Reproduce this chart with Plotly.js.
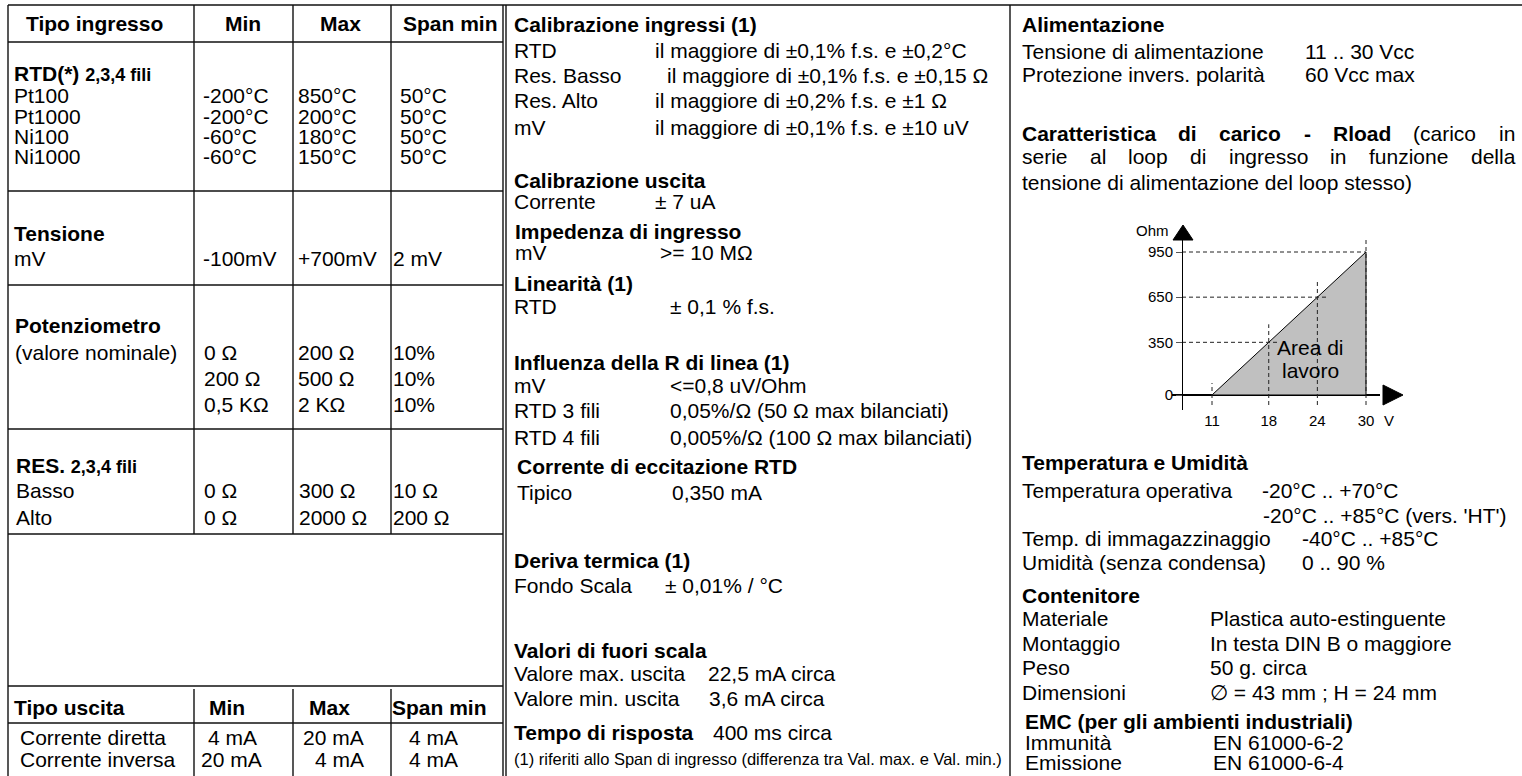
<!DOCTYPE html>
<html>
<head>
<meta charset="utf-8">
<script src="https://cdn.plot.ly/plotly-3.0.1.min.js"></script>
<style>html,body{margin:0;padding:0;background:#fff;}#chart{width:1522px;height:776px;}</style>
</head>
<body>
<div id="chart"></div>
<script>
// ---------------- DATA ----------------
// Input table
const rtdTypes = ['Pt100', 'Pt1000', 'Ni100', 'Ni1000'];
const rtdMin = ['-200°C', '-200°C', '-60°C', '-60°C'];
const rtdMax = ['850°C', '200°C', '180°C', '150°C'];
const rtdSpan = ['50°C', '50°C', '50°C', '50°C'];
const mvTypes = ['mV'];
const mvMin = ['-100mV'];
const mvMax = ['+700mV'];
const mvSpan = ['2 mV'];
const potTypes = ['(valore nominale)', '', ''];
const potMin = ['0 Ω', '200 Ω', '0,5 KΩ'];
const potMax = ['200 Ω', '500 Ω', '2 KΩ'];
const potSpan = ['10%', '10%', '10%'];
const resTypes = ['Basso', 'Alto'];
const resMin = ['0 Ω', '0 Ω'];
const resMax = ['300 Ω', '2000 Ω'];
const resSpan = ['10 Ω', '200 Ω'];
// Output table
const outTypes = ['Corrente diretta', 'Corrente inversa'];
const outMin = ['4 mA', '20 mA'];
const outMax = ['20 mA', '4 mA'];
const outSpan = ['4 mA', '4 mA'];
// Middle column
const calInLabels = ['RTD', 'Res. Basso', 'Res. Alto', 'mV'];
const calInValues = ['il maggiore di ±0,1% f.s. e ±0,2°C', 'il maggiore di ±0,1% f.s. e ±0,15 Ω', 'il maggiore di ±0,2% f.s. e ±1 Ω', 'il maggiore di ±0,1% f.s. e ±10 uV'];
const calOutLabels = ['Corrente'];
const calOutValues = ['± 7 uA'];
const impLabels = ['mV'];
const impValues = ['>= 10 MΩ'];
const linLabels = ['RTD'];
const linValues = ['± 0,1 % f.s.'];
const lineRLabels = ['mV', 'RTD 3 fili', 'RTD 4 fili'];
const lineRValues = ['<=0,8 uV/Ohm', '0,05%/Ω (50 Ω max bilanciati)', '0,005%/Ω (100 Ω max bilanciati)'];
const excLabels = ['Tipico'];
const excValues = ['0,350 mA'];
const driftLabels = ['Fondo Scala'];
const driftValues = ['± 0,01% / °C'];
const overLabels = ['Valore max. uscita', 'Valore min. uscita'];
const overValues = ['22,5 mA circa', '3,6 mA circa'];
const respValue = '400 ms circa';
const footnote = '(1) riferiti allo Span di ingresso (differenza tra Val. max. e Val. min.)';
// Right column
const supplyLabels = ['Tensione di alimentazione', 'Protezione invers. polarità'];
const supplyValues = ['11 .. 30 Vcc', '60 Vcc max'];
const loadText = ['Caratteristica di carico - Rload', '(carico in', 'serie al loop di ingresso in funzione della', 'tensione di alimentazione del loop stesso)'];
const tempLabels = ['Temperatura operativa', '', 'Temp. di immagazzinaggio', 'Umidità (senza condensa)'];
const tempValues = ['-20°C .. +70°C', "-20°C .. +85°C (vers. 'HT')", '-40°C .. +85°C', '0 .. 90 %'];
const boxLabels = ['Materiale', 'Montaggio', 'Peso', 'Dimensioni'];
const boxValues = ['Plastica auto-estinguente', 'In testa DIN B o maggiore', '50 g. circa', '∅ = 43 mm ; H = 24 mm'];
const emcLabels = ['Immunità', 'Emissione'];
const emcValues = ['EN 61000-6-2', 'EN 61000-6-4'];
// Load characteristic chart
const loadV = [11, 18, 24, 30];        // supply voltage (V)
const loadR = [0, 350, 650, 950];      // max load (Ohm)
const loadVLabels = ['11', '18', '24', '30'];
const loadRLabels = ['0', '350', '650', '950'];

// ---------------- LAYOUT HELPERS ----------------
const W = 1522, H = 776;
const F = '"Liberation Sans", Arial, sans-serif';
const FS = 21;
const ann = [];
const shapes = [];
const px = x => x / W;
const py = y => 1 - y / H;
const B = s => '<b>' + s + '</b>';
function T(x, y, text, o = {}) {
  if (!text) return;
  ann.push({
    xref: 'paper', yref: 'paper', x: px(x), y: py(y),
    xanchor: o.anchor || 'left', yanchor: 'middle',
    text: text, showarrow: false, borderpad: 0, borderwidth: 0,
    font: { family: F, size: o.size || FS, color: '#000' }
  });
}
function L(x0, y0, x1, y1, w) {
  shapes.push({ type: 'line', xref: 'paper', yref: 'paper', x0: px(x0), y0: py(y0), x1: px(x1), y1: py(y1), line: { color: '#111', width: w || 1.4 } });
}
function rows(labels, cols, ys, lx, xs) {
  ys.forEach((y, i) => {
    T(lx, y, labels[i]);
    cols.forEach((c, j) => T(xs[j], y, c[i]));
  });
}
function pairs(labels, values, ys, lx, vx) {
  ys.forEach((y, i) => { T(lx, y, labels[i]); T(vx, y, values[i]); });
}

// ---------------- LEFT TABLE ----------------
L(8, 5, W, 5);
[42, 191, 285, 429, 534, 686, 723].forEach(y => L(8, y, 503, y));
L(8, 5, 8, H); L(503, 5, 503, H); L(506, 5, 506, H); L(1010, 5, 1010, H);
[194, 293, 391].forEach(x => { L(x, 5, x, 534); L(x, 689, x, H); });

T(26, 23, B('Tipo ingresso')); T(225, 23, B('Min')); T(320, 23, B('Max')); T(403, 23, B('Span min'));
T(14, 73, B('RTD(*) <span style="font-size:18px">2,3,4 fili</span>'));
rows(rtdTypes, [rtdMin, rtdMax, rtdSpan], [95.5, 116, 136, 157], 14, [203, 298, 400]);
T(14, 233, B('Tensione'));
rows(mvTypes, [mvMin, mvMax, mvSpan], [259], 14, [203, 298, 393]);
T(15, 325, B('Potenziometro'));
rows(potTypes, [potMin, potMax, potSpan], [353, 378, 404], 15, [204, 298, 393]);
T(16, 465, B('RES. <span style="font-size:18px">2,3,4 fili</span>'));
rows(resTypes, [resMin, resMax, resSpan], [490, 517], 16, [204, 299, 393]);
T(14, 707, B('Tipo uscita')); T(209, 707, B('Min')); T(309, 707, B('Max')); T(392, 707, B('Span min'));
T(20, 737, outTypes[0]); T(208, 737, outMin[0]); T(303, 737, outMax[0]); T(409, 737, outSpan[0]);
T(20, 759, outTypes[1]); T(201, 759, outMin[1]); T(315, 759, outMax[1]); T(409, 759, outSpan[1]);

// ---------------- MIDDLE COLUMN ----------------
T(514, 25, B('Calibrazione ingressi (1)'));
[51, 76, 101, 128].forEach((y, i) => { T(514, y, calInLabels[i]); T(i === 1 ? 667 : 655, y, calInValues[i]); });
T(514, 180, B('Calibrazione uscita'));
pairs(calOutLabels, calOutValues, [202], 514, 655);
T(515, 231, B('Impedenza di ingresso'));
pairs(impLabels, impValues, [253], 515, 660);
T(514, 283, B('Linearità (1)'));
pairs(linLabels, linValues, [307], 514, 670);
T(514, 362, B('Influenza della R di linea (1)'));
pairs(lineRLabels, lineRValues, [385, 410, 437], 514, 670);
T(517, 466, B('Corrente di eccitazione RTD'));
pairs(excLabels, excValues, [492], 517, 672);
T(514, 560, B('Deriva termica (1)'));
pairs(driftLabels, driftValues, [585], 514, 665);
T(514, 650, B('Valori di fuori scala'));
T(514, 673, overLabels[0]); T(708, 673, overValues[0]);
T(514, 698, overLabels[1]); T(709, 698, overValues[1]);
T(514, 732, B('Tempo di risposta')); T(713, 732, respValue);
T(514, 759, footnote, { size: 16.5 });

// ---------------- RIGHT COLUMN ----------------
T(1022, 25, B('Alimentazione'));
pairs(supplyLabels, supplyValues, [52, 75], 1022, 1305);

// justified paragraph
const cv = document.createElement('canvas').getContext('2d');
function measure(word, bold) { cv.font = (bold ? 'bold ' : '') + FS + 'px "Liberation Sans"'; return cv.measureText(word).width; }
function justify(words, y, x0, x1) {
  const ws = words.map(w => measure(w.t, w.b));
  const gap = (x1 - x0 - ws.reduce((a, b) => a + b, 0)) / (words.length - 1);
  let x = x0;
  words.forEach((w, i) => { T(x, y, w.b ? B(w.t) : w.t); x += ws[i] + gap; });
}
const line1 = loadText[0].split(' ').map(t => ({ t, b: true })).concat(loadText[1].split(' ').map(t => ({ t, b: false })));
justify(line1, 133, 1022, 1515);
justify(loadText[2].split(' ').map(t => ({ t, b: false })), 157, 1022, 1515);
T(1022, 182, loadText[3]);

T(1022, 462, B('Temperatura e Umidità'));
[490, 515, 538, 562].forEach((y, i) => { T(1022, y, tempLabels[i]); T(i === 0 ? 1262 : i === 1 ? 1263 : 1302, y, tempValues[i]); });
T(1022, 595, B('Contenitore'));
pairs(boxLabels, boxValues, [618, 643, 667, 692], 1022, 1210);
T(1025, 721, B('EMC (per gli ambienti industriali)'));
pairs(emcLabels, emcValues, [742, 762], 1025, 1213);

// ---------------- LOAD CHART ----------------
const cx0 = 1172, cx1 = 1380, cyTop = 239, cyBot = 410;
const pxV0 = 1212, pxV1 = 1366, pyR0 = 395, pyR1 = 252;
const kx = (pxV1 - pxV0) / (loadV[3] - loadV[0]);
const ky = (pyR0 - pyR1) / (loadR[3] - loadR[0]);
const xr = [loadV[0] - (pxV0 - cx0) / kx, loadV[3] + (cx1 - pxV1) / kx];
const yr = [loadR[0] - (cyBot - pyR0) / ky, loadR[3] + (pyR1 - cyTop) / ky];
const yAxisPx = 1182;
const xAtAxis = loadV[0] - (pxV0 - yAxisPx) / kx;

// dashed guide lines
const gx = [], gy = [];
const extH = [0, 10, 10, 0].map(p => p / kx);
const extV = [12, 18, 18, 12].map(p => p / ky);
const below = -10 / ky;
for (let i = 1; i < loadV.length; i++) { gx.push(xAtAxis, loadV[i] + extH[i], null); gy.push(loadR[i], loadR[i], null); }
for (let i = 0; i < loadV.length; i++) { gx.push(loadV[i], loadV[i], null); gy.push(below, loadR[i] + extV[i], null); }

const traces = [
  {
    type: 'scatter', mode: 'lines', x: [loadV[0], loadV[3], loadV[3], loadV[0]], y: [loadR[0], loadR[3], loadR[0], loadR[0]],
    fill: 'toself', fillcolor: '#c0c0c0', line: { color: '#000', width: 1 }, hoverinfo: 'skip', showlegend: false
  },
  {
    type: 'scatter', mode: 'lines', x: gx, y: gy, line: { color: '#222', width: 1, dash: '4px,3px' },
    hoverinfo: 'skip', showlegend: false, cliponaxis: false
  }
];

// axis arrows
shapes.push({ type: 'path', xref: 'paper', yref: 'paper', fillcolor: '#000', line: { color: '#000', width: 1 },
  path: `M ${px(1383)},${py(385)} L ${px(1403)},${py(395)} L ${px(1383)},${py(405)} Z` });
shapes.push({ type: 'path', xref: 'paper', yref: 'paper', fillcolor: '#000', line: { color: '#000', width: 1 },
  path: `M ${px(1173)},${py(240)} L ${px(1183)},${py(225)} L ${px(1193)},${py(240)} Z` });

T(1152, 230, 'Ohm', { size: 15, anchor: 'center' });
T(1389, 420, 'V', { size: 15, anchor: 'center' });
T(1310, 347, 'Area di', { size: 21, anchor: 'center' });
T(1310, 370, 'lavoro', { size: 21, anchor: 'center' });

const layout = {
  width: W, height: H,
  margin: { l: 0, r: 0, t: 0, b: 0, pad: 0 },
  paper_bgcolor: '#fff', plot_bgcolor: 'rgba(0,0,0,0)',
  font: { family: F, color: '#000' },
  showlegend: false,
  xaxis: {
    domain: [px(cx0), px(cx1)], range: xr, anchor: 'y',
    tickvals: loadV, ticktext: loadVLabels, ticks: '', showgrid: false, zeroline: false, showline: false,
    tickfont: { family: F, size: 15, color: '#000' }, fixedrange: true
  },
  yaxis: {
    domain: [py(cyBot), py(cyTop)], range: yr, anchor: 'free', position: px(yAxisPx),
    tickvals: loadR, ticktext: loadRLabels, ticks: 'outside', ticklen: 6, tickcolor: '#555',
    showgrid: false, zeroline: true, zerolinecolor: '#000', zerolinewidth: 1.3,
    showline: true, linecolor: '#000', linewidth: 1.3,
    tickfont: { family: F, size: 15, color: '#000' }, fixedrange: true
  },
  annotations: ann,
  shapes: shapes
};

Plotly.newPlot('chart', traces, layout, { staticPlot: true, displayModeBar: false });
</script>
</body>
</html>
